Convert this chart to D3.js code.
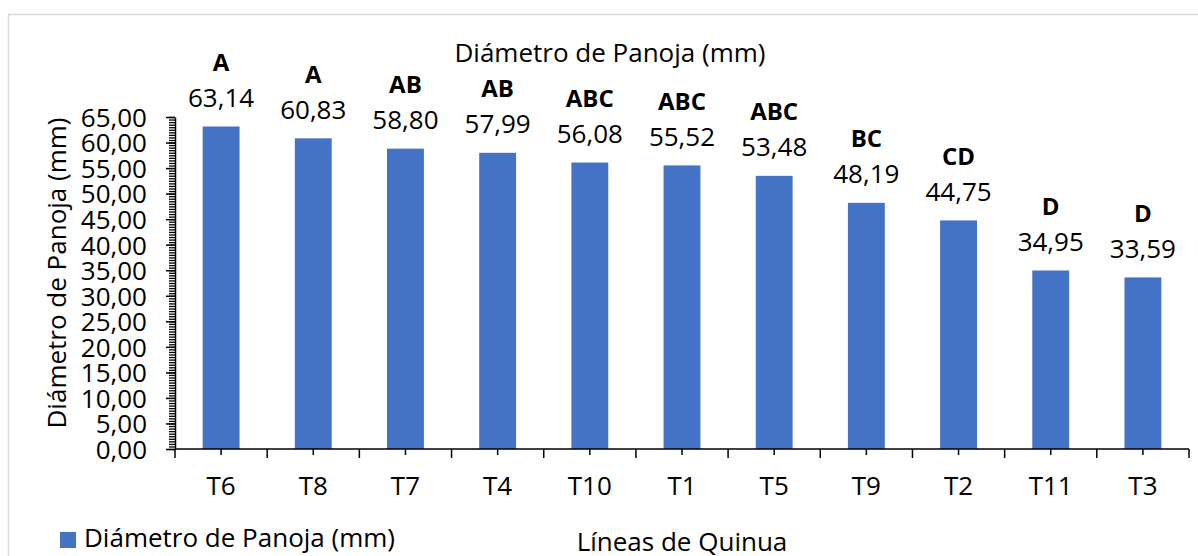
<!DOCTYPE html>
<html>
<head>
<meta charset="utf-8">
<script src="https://cdn.jsdelivr.net/npm/d3@7"></script>
<style>
html,body{margin:0;padding:0;background:#fff;}
svg{display:block;font-family:"Open Sans", Lato, sans-serif;}
</style>
</head>
<body>
<svg id="chart" width="1198" height="556"></svg>
<script>
const categories = ["T6","T8","T7","T4","T10","T1","T5","T9","T2","T11","T3"];
const values = [63.14,60.83,58.80,57.99,56.08,55.52,53.48,48.19,44.75,34.95,33.59];
const letters = ["A","A","AB","AB","ABC","ABC","ABC","BC","CD","D","D"];
const yTicks = [0,5,10,15,20,25,30,35,40,45,50,55,60,65];
const seriesName = "Diámetro de Panoja (mm)";
const chartTitle = "Diámetro de Panoja (mm)";
const xTitle = "Líneas de Quinua";
const yTitle = "Diámetro de Panoja (mm)";

const data = categories.map((c,i)=>({cat:c, val:values[i], letter:letters[i]}));
const fmt = v => d3.format(".2f")(v).replace(".", ",");

const svg = d3.select("#chart");
const x0 = 175, x1 = 1189, yBottom = 449, yTop = 117;
const blue = "#4472C4";
const FS = 26;

// outer border
svg.append("rect").attr("x",8.5).attr("y",14.5).attr("width",1200).attr("height",600)
  .attr("fill","none").attr("stroke","#d9d9d9").attr("stroke-width",1.5);

const x = d3.scaleBand().domain(categories).range([x0,x1]).padding(0);
const y = d3.scaleLinear().domain([0,65]).range([yBottom,yTop]);
const barW = x.bandwidth()*0.4;

// bars
svg.append("g").selectAll("rect").data(data).join("rect")
  .attr("x", d => x(d.cat) + x.bandwidth()/2 - barW/2)
  .attr("y", d => y(d.val))
  .attr("width", barW)
  .attr("height", d => y(0) - y(d.val))
  .attr("fill", blue);

// y axis with minor ticks
const minor = d3.range(0, 65.001, 0.5);
svg.append("g").attr("transform",`translate(${x0},0)`)
  .call(d3.axisLeft(y).tickValues(minor).tickSize(6).tickFormat(""))
  .call(g=>{g.select(".domain").remove(); g.selectAll("line").attr("stroke","#000").attr("stroke-width",1.3);});
const yAx = svg.append("g").attr("transform",`translate(${x0},0)`)
  .call(d3.axisLeft(y).tickValues(yTicks).tickSize(9).tickSizeOuter(0).tickPadding(20).tickFormat(fmt));
yAx.select(".domain").attr("stroke","#000").attr("stroke-width",1.5);
yAx.selectAll("line").attr("stroke","#000").attr("stroke-width",1.5);
yAx.selectAll("text").attr("font-size",FS).attr("font-family","Open Sans").attr("fill","#000").attr("dy","0.36em").attr("x",-28);

// x axis
const xg = svg.append("g").attr("transform",`translate(0,${yBottom})`);
xg.append("line").attr("x1",x0).attr("x2",x1).attr("stroke","#000").attr("stroke-width",1.5);
const bounds = categories.map(c=>x(c)).concat([x1]);
xg.selectAll("line.b").data(bounds).join("line").attr("class","b")
  .attr("x1",d=>d).attr("x2",d=>d).attr("y1",0).attr("y2",9).attr("stroke","#000").attr("stroke-width",1.5);
xg.selectAll("line.c").data(categories).join("line").attr("class","c")
  .attr("x1",d=>x(d)+x.bandwidth()/2).attr("x2",d=>x(d)+x.bandwidth()/2).attr("y1",0).attr("y2",6)
  .attr("stroke","#000").attr("stroke-width",1.5);
xg.selectAll("text").data(categories).join("text")
  .attr("x",d=>x(d)+x.bandwidth()/2).attr("y",46).attr("text-anchor","middle")
  .attr("font-size",FS).attr("fill","#000").text(d=>d);

// value labels
svg.append("g").selectAll("text").data(data).join("text")
  .attr("x",d=>x(d.cat)+x.bandwidth()/2).attr("y",d=>y(d.val)-19.5)
  .attr("text-anchor","middle").attr("font-size",FS).attr("fill","#000")
  .text(d=>fmt(d.val));
// letter labels
svg.append("g").selectAll("text").data(data).join("text")
  .attr("x",d=>x(d.cat)+x.bandwidth()/2).attr("y",d=>y(d.val)-55.5)
  .attr("text-anchor","middle").attr("font-size",24).attr("font-weight","bold").attr("fill","#000")
  .text(d=>d.letter);

// title
svg.append("text").attr("x",610).attr("y",62).attr("text-anchor","middle")
  .attr("font-size",FS).attr("fill","#000").text(chartTitle);
// x title
svg.append("text").attr("x",682).attr("y",551).attr("text-anchor","middle")
  .attr("font-size",FS).attr("fill","#000").text(xTitle);
// y title
svg.append("text").attr("transform",`translate(66,273) rotate(-90)`).attr("text-anchor","middle")
  .attr("font-size",FS).attr("fill","#000").text(yTitle);
// legend
svg.append("rect").attr("x",60).attr("y",532).attr("width",16).attr("height",16).attr("fill",blue);
svg.append("text").attr("x",84).attr("y",547).attr("font-size",FS).attr("fill","#000").text(seriesName);
</script>
</body>
</html>
